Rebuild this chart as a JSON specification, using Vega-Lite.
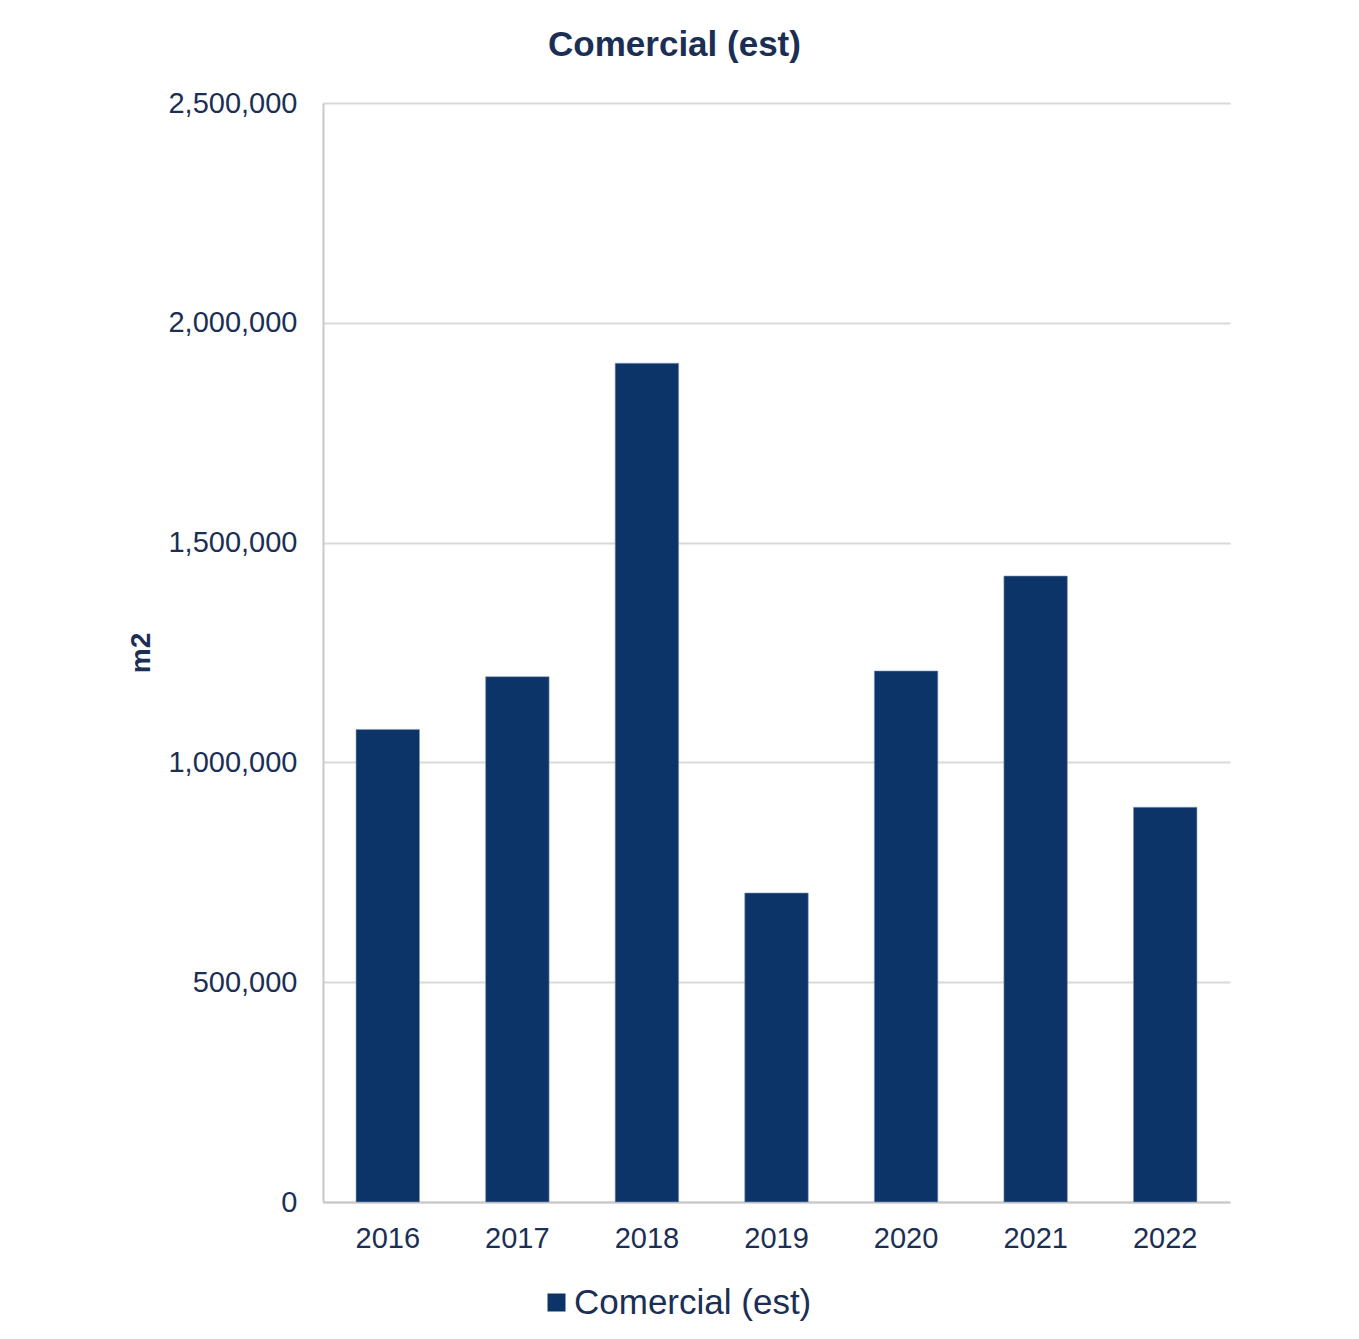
{
  "$schema": "https://vega.github.io/schema/vega-lite/v6.json",
  "width": 907,
  "height": 1099,
  "autosize": {"type": "none"},
  "padding": {"left": 323, "top": 103, "right": 129, "bottom": 137},
  "background": "white",
  "title": {
    "text": "Comercial (est)",
    "font": "Liberation Sans",
    "fontSize": 35,
    "fontWeight": "bold",
    "color": "#1b2f55",
    "anchor": "middle",
    "dx": -102,
    "offset": 26
  },
  "data": {
    "values": [
      {"year": "2016", "value": 1075000, "series": "Comercial (est)"},
      {"year": "2017", "value": 1195000, "series": "Comercial (est)"},
      {"year": "2018", "value": 1908000, "series": "Comercial (est)"},
      {"year": "2019", "value": 703000, "series": "Comercial (est)"},
      {"year": "2020", "value": 1208000, "series": "Comercial (est)"},
      {"year": "2021", "value": 1424000, "series": "Comercial (est)"},
      {"year": "2022", "value": 898000, "series": "Comercial (est)"}
    ]
  },
  "mark": {"type": "bar", "stroke": "#8a9bb5", "strokeWidth": 0.6},
  "encoding": {
    "x": {
      "field": "year",
      "type": "nominal",
      "scale": {"paddingInner": 0.51, "paddingOuter": 0.255},
      "axis": {
        "title": null,
        "labelAngle": 0,
        "labelFont": "Liberation Sans",
        "labelFontSize": 29,
        "labelColor": "#1b2f55",
        "labelPadding": 22,
        "ticks": false,
        "domainColor": "#c8c8c8",
        "domainWidth": 2
      }
    },
    "y": {
      "field": "value",
      "type": "quantitative",
      "scale": {"domain": [0, 2500000]},
      "axis": {
        "title": "m2",
        "titleFont": "Liberation Sans",
        "titleFontSize": 28,
        "titleFontWeight": "bold",
        "titleColor": "#1b2f55",
        "titlePadding": 12,
        "values": [0, 500000, 1000000, 1500000, 2000000, 2500000],
        "format": ",d",
        "labelFont": "Liberation Sans",
        "labelFontSize": 29,
        "labelColor": "#1b2f55",
        "labelPadding": 26,
        "ticks": false,
        "domainColor": "#c8c8c8",
        "domainWidth": 2,
        "gridColor": "#d9d9d9",
        "gridWidth": 2
      }
    },
    "color": {
      "field": "series",
      "type": "nominal",
      "scale": {"range": ["#0c3468"]},
      "legend": {
        "title": null,
        "orient": "none",
        "legendX": 216,
        "legendY": 1182,
        "direction": "horizontal",
        "symbolType": "square",
        "symbolSize": 324,
        "symbolStrokeWidth": 0,
        "labelFont": "Liberation Sans",
        "labelFontSize": 35,
        "labelColor": "#1b2f55",
        "labelLimit": 0,
        "labelOffset": 0
      }
    }
  },
  "config": {
    "view": {"stroke": null}
  }
}
